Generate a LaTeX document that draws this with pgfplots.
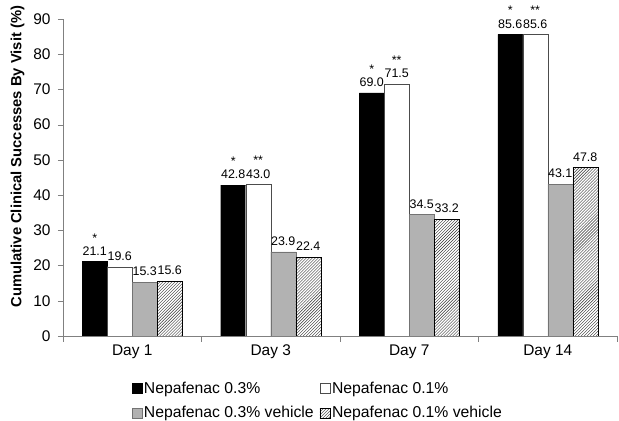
\documentclass[border=0pt]{standalone}
\usepackage{fontspec}
\setmainfont{Liberation Sans}
\usepackage{pgfplots}
\pgfplotsset{compat=1.18}
\usetikzlibrary{patterns}
\definecolor{axgray}{RGB}{128,128,128}
\definecolor{bargray}{RGB}{178,178,178}
\pgfplotsset{sq legend/.style={legend image code/.code={\draw[##1] (0bp,-5bp) rectangle (10bp,5bp);}}}
\begin{document}
\begin{tikzpicture}
\begin{axis}[name=ax,
  scale only axis, width=554bp, height=317bp,
  ybar=0pt, bar width=25bp,
  xmin=-0.5, xmax=3.5, ymin=0, ymax=90,
  ytick={0,10,...,90},
  xtick={0,1,2,3}, xticklabels={Day 1,Day 3,Day 7,Day 14},
  minor xtick={-0.5,0.5,1.5,2.5,3.5},
  axis lines=left, axis line style={-, draw=axgray},
  tick align=outside,
  major tick length=5bp, minor tick length=6bp,
  xtick style={draw=none}, minor x tick style={draw=axgray},
  ytick style={draw=axgray},
  /pgf/number format/assume math mode=true,
  ticklabel style={font=\fontsize{15.5}{18}\selectfont, text=black},
  yticklabel style={xshift=-4bp},
  ylabel={Cumulative Clinical Successes By Visit (\%)},
  ylabel style={font=\fontsize{14.8}{17}\selectfont\bfseries, at={(ticklabel cs:0.566)}},
  ylabel shift=2bp,
  point meta=explicit symbolic,
  nodes near coords={\pgfplotspointmeta},
  nodes near coords style={font=\fontsize{12.5}{13.5}\selectfont, align=center, anchor=south, text=black, inner ysep=6bp},
  legend columns=2,
  legend cell align=left,
  legend style={draw=none, at={(0.118,-0.131)}, anchor=north west,
    font=\fontsize{15.8}{18}\selectfont, column sep=1bp, row sep=8bp,
    nodes={inner xsep=1bp},
    /tikz/every even column/.append style={column sep=5bp}},
]
\addplot[fill=black, draw=black, sq legend] coordinates {
  (0,21.1) [*\\21.1] (1,42.8) [*\\42.8] (2,69.0) [*\\69.0] (3,85.6) [*\\85.6]};
\addlegendentry{Nepafenac 0.3\%}
\addplot[fill=white, draw=black!70, sq legend] coordinates {
  (0,19.6) [19.6] (1,43.0) [**\\43.0] (2,71.5) [**\\71.5] (3,85.6) [**\\85.6]};
\addlegendentry{Nepafenac 0.1\%}
\addplot[fill=bargray, draw=black!55, sq legend] coordinates {
  (0,15.3) [15.3] (1,23.9) [23.9] (2,34.5) [34.5] (3,43.1) [43.1]};
\addlegendentry{Nepafenac 0.3\% vehicle}
\addplot[pattern=north east lines, pattern color=black!80, draw=black, sq legend] coordinates {
  (0,15.6) [15.6] (1,22.4) [22.4] (2,33.2) [33.2] (3,47.8) [47.8]};
\addlegendentry{Nepafenac 0.1\% vehicle}
\end{axis}
\pgfresetboundingbox
\path ([xshift=-63bp,yshift=-85bp]ax.south west) rectangle ([xshift=2bp,yshift=19bp]ax.north east);
\end{tikzpicture}
\end{document}
